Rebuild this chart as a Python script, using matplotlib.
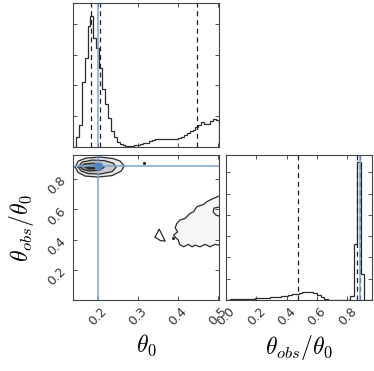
import matplotlib
matplotlib.use("Agg")
import matplotlib.pyplot as plt
import numpy as np

plt.rcParams['mathtext.fontset'] = 'cm'

# theta_0 marginal (top left)
t0_edges = np.linspace(0.1385, 0.503, 51)
t0_counts = [0.0, 0.07, 0.15, 0.45, 0.62, 0.84, 0.91, 0.76, 0.69, 0.55,
             0.40, 0.30, 0.20, 0.11, 0.07, 0.035, 0.02, 0.01, 0.005, 0.005,
             0.007, 0.01, 0.012, 0.018, 0.024, 0.03, 0.038, 0.045, 0.052, 0.053,
             0.052, 0.053, 0.054, 0.055, 0.056, 0.058, 0.062, 0.07, 0.08, 0.095,
             0.11, 0.12, 0.135, 0.15, 0.17, 0.16, 0.16, 0.18, 0.195, 0.185]
t0_quant = [0.1835, 0.207, 0.448]
t0_true = 0.201

# theta_obs/theta_0 marginal (bottom right)
r_edges = np.linspace(0.0, 0.96, 41)
r_counts = [0.004, 0.005, 0.006, 0.007, 0.008, 0.009, 0.010, 0.011, 0.012, 0.013,
            0.015, 0.017, 0.019, 0.022, 0.025, 0.028, 0.031, 0.035, 0.040, 0.045,
            0.050, 0.053, 0.055, 0.054, 0.050, 0.038, 0.020, 0.008, 0.002, 0.0,
            0.0, 0.0, 0.0, 0.0, 0.03, 0.39, 0.95, 0.18, 0.0, 0.0]
r_quant = [0.474, 0.866, 0.884]
r_true = 0.885

# 2D contours (theta_0, ratio)
c_outer_x = [0.1442, 0.1517, 0.1717, 0.2067, 0.2391, 0.2566, 0.2666, 0.2591, 0.2366, 0.2017, 0.1692, 0.1517]
c_outer_y = [0.8806, 0.9203, 0.9402, 0.9468, 0.9369, 0.9203, 0.8872, 0.8541, 0.8243, 0.8144, 0.8210, 0.8442]
c_mid_x = [0.1517, 0.1617, 0.1867, 0.2167, 0.2391, 0.2466, 0.2366, 0.2067, 0.1767, 0.1592]
c_mid_y = [0.8806, 0.9137, 0.9269, 0.9236, 0.9071, 0.8806, 0.8508, 0.8342, 0.8376, 0.8541]
c_in_x = [0.1567, 0.1667, 0.1892, 0.2092, 0.2167, 0.2067, 0.1817, 0.1642]
c_in_y = [0.8806, 0.9005, 0.9071, 0.8972, 0.8806, 0.8607, 0.8541, 0.8641]
c_core_x = [0.1667, 0.1817, 0.2042, 0.2092, 0.2017, 0.1767]
c_core_y = [0.8806, 0.8905, 0.8905, 0.8773, 0.8641, 0.8641]

c_wide_x = [0.504, 0.486, 0.473, 0.465, 0.448, 0.440, 0.431, 0.419, 0.406, 0.398, 0.394, 0.400,
            0.390, 0.396, 0.402, 0.405, 0.415, 0.427, 0.436, 0.444, 0.456, 0.469, 0.481, 0.494, 0.504]
c_wide_y = [0.689, 0.669, 0.651, 0.634, 0.618, 0.585, 0.574, 0.541, 0.530, 0.508, 0.479, 0.452,
            0.430, 0.412, 0.397, 0.369, 0.353, 0.369, 0.353, 0.364, 0.353, 0.369, 0.353, 0.369, 0.364]
c_island_x = [0.344, 0.354, 0.359, 0.369, 0.357, 0.344]
c_island_y = [0.417, 0.470, 0.444, 0.391, 0.394, 0.417]
c_hook_x = [0.504, 0.491, 0.489, 0.496, 0.504]
c_hook_y = [0.616, 0.609, 0.583, 0.563, 0.556]
pts_x = [0.317, 0.388]
pts_y = [0.905, 0.409]

t0_lim = (0.1385, 0.503)
r_lim = (0.0, 0.96)
blue = '#7aa7d4'
dark = '#2b2b2b'

fig = plt.figure(figsize=(3.74, 3.71), dpi=100)
ax1 = fig.add_axes([0.195, 0.604, 0.39, 0.388])
ax2 = fig.add_axes([0.195, 0.191, 0.39, 0.391])
ax3 = fig.add_axes([0.604, 0.191, 0.39, 0.391])

for ax in (ax1, ax2, ax3):
    ax.tick_params(direction='in', top=True, right=True, length=3, width=0.6,
                   labelsize=9, colors='#333333')
    for s in ax.spines.values():
        s.set_linewidth(0.8)
        s.set_color('#444444')

# top histogram
ax1.stairs(t0_counts, t0_edges, color=dark, lw=0.9)
for q in t0_quant:
    ax1.axvline(q, color='#222222', ls='--', lw=0.9, dashes=(4, 3))
ax1.axvline(t0_true, color=blue, lw=1.1)
ax1.set_xlim(t0_lim)
ax1.set_ylim(0, 1.0)
ax1.set_xticks([0.2, 0.3, 0.4, 0.5])
ax1.set_yticks([0.214, 0.428, 0.642, 0.856])
ax1.set_xticklabels([])
ax1.set_yticklabels([])

# 2D panel
ax2.fill(c_wide_x + [0.504], c_wide_y + [0.689], color='#f7f7f7', lw=0)
ax2.fill(c_outer_x, c_outer_y, color='#e8e8e8', lw=0)
ax2.fill(c_mid_x, c_mid_y, color='#c8c8c8', lw=0)
ax2.fill(c_in_x, c_in_y, color='#8a8a8a', lw=0)
ax2.fill(c_core_x, c_core_y, color='#2a2a2a', lw=0)
for cx, cy in [(c_outer_x, c_outer_y), (c_mid_x, c_mid_y), (c_in_x, c_in_y)]:
    ax2.plot(cx + cx[:1], cy + cy[:1], color=dark, lw=0.9)
ax2.plot(c_wide_x, c_wide_y, color=dark, lw=0.9)
ax2.plot(c_island_x, c_island_y, color=dark, lw=0.9)
ax2.plot(c_hook_x, c_hook_y, color=dark, lw=0.9)
ax2.plot(pts_x, pts_y, 'o', color=dark, ms=1.3)
ax2.axvline(t0_true, color=blue, lw=1.1)
ax2.axhline(r_true, color=blue, lw=1.1)
ax2.plot(t0_true, r_true, 's', color='#4f86c0', ms=5)
ax2.set_xlim(t0_lim)
ax2.set_ylim(r_lim)
ax2.set_xticks([0.2, 0.3, 0.4, 0.5])
ax2.set_yticks([0.2, 0.4, 0.6, 0.8])
for l in ax2.get_xticklabels():
    l.set_rotation(45)
for l in ax2.get_yticklabels():
    l.set_rotation(45)
ax2.set_xlabel(r'$\theta_0$', fontsize=17, labelpad=3)
ax2.set_ylabel(r'$\theta_{obs}/\theta_0$', fontsize=17, labelpad=6)

# right histogram
ax3.stairs(r_counts, r_edges, color=dark, lw=0.9)
for q in r_quant:
    ax3.axvline(q, color='#222222', ls='--', lw=0.9, dashes=(4, 3))
ax3.axvline(r_true, color=blue, lw=1.1)
ax3.set_xlim(r_lim)
ax3.set_ylim(0, 1.0)
ax3.set_xticks([0.0, 0.2, 0.4, 0.6, 0.8])
ax3.set_yticks([0.147 * k for k in range(1, 7)])
ax3.set_yticklabels([])
for l in ax3.get_xticklabels():
    l.set_rotation(45)
ax3.set_xlabel(r'$\theta_{obs}/\theta_0$', fontsize=17, labelpad=3)

fig.savefig('out.png', dpi=100)
